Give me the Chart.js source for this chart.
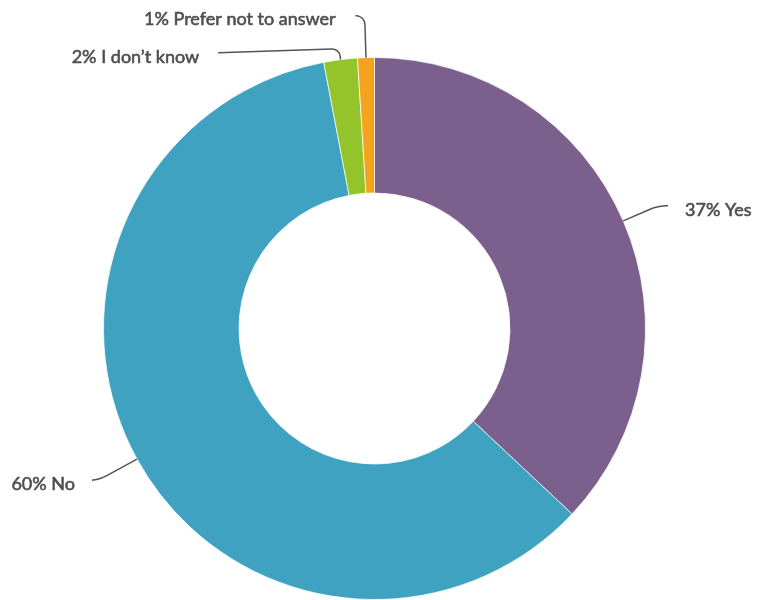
<!DOCTYPE html>
<html>
<head>
<meta charset="utf-8">
<title>Survey responses</title>
<script src="https://cdn.jsdelivr.net/npm/chart.js@4/dist/chart.umd.min.js"></script>
<style>
  html, body { margin: 0; padding: 0; background: #ffffff; }
  #wrap { width: 757px; height: 600px; position: relative; }
</style>
</head>
<body>
<div id="wrap"><canvas id="chart"></canvas></div>
<script>
// Answers, in clockwise order from 12 o'clock
const categories = ['Yes', 'No', 'I don\u2019t know', 'Prefer not to answer'];
const percentages = [37, 60, 2, 1];
const sliceColors = ['#7b5f8d', '#40a2c1', '#93c42a', '#f5a31c'];

// Leader-line geometry for each label: radial run out of the slice,
// horizontal run after the bend, corner rounding, and gap to the text.
const leaderLayout = [
  { radial: 38, run: 10, dy: 0, corner: 45, gap: 17 },
  { radial: 40, run: 10, dy: 2, corner: 36, gap: 17 },
  { radial: 11, run: 121, dy: 4, corner: 8, gap: 19 },
  { radial: 42, run: 7, dy: 0, corner: 9, gap: 22 }
];

const leaderLabels = {
  id: 'leaderLabels',
  afterDatasetsDraw(chart) {
    const ctx = chart.ctx;
    const meta = chart.getDatasetMeta(0);
    const values = chart.data.datasets[0].data;
    ctx.save();
    ctx.strokeStyle = '#555555';
    ctx.lineWidth = 1.5;
    ctx.font = '18px Lato';
    ctx.textBaseline = 'middle';
    meta.data.forEach((arc, i) => {
      const lay = leaderLayout[i];
      const mid = (arc.startAngle + arc.endAngle) / 2;
      const r = arc.outerRadius;
      const cx = arc.x, cy = arc.y;
      const ux = Math.cos(mid), uy = Math.sin(mid);
      const sx = cx + ux * r, sy = cy + uy * r;
      const ex = sx + ux * lay.radial, ey = sy + uy * lay.radial;
      const right = ux >= 0;
      const tx = ex + (right ? lay.run : -lay.run);
      const ty = ey + lay.dy;
      ctx.beginPath();
      ctx.strokeStyle = '#555555';
      ctx.lineWidth = 1.5;
      ctx.moveTo(sx, sy);
      ctx.arcTo(ex, ey, tx, ty, lay.corner);
      ctx.lineTo(tx, ty);
      ctx.stroke();
      const label = values[i] + '% ' + chart.data.labels[i];
      const lx = tx + (right ? lay.gap : -lay.gap);
      ctx.textAlign = right ? 'left' : 'right';
      ctx.fillStyle = '#4f4f4f';
      ctx.strokeStyle = '#4f4f4f';
      ctx.lineWidth = 0.6;
      ctx.lineJoin = 'round';
      ctx.fillText(label, lx, ty + 4);
      ctx.strokeText(label, lx, ty + 4);
    });
    ctx.restore();
  }
};

new Chart(document.getElementById('chart'), {
  type: 'doughnut',
  data: {
    labels: categories,
    datasets: [{
      data: percentages,
      backgroundColor: sliceColors,
      borderColor: 'rgba(255,255,255,0.7)',
      borderWidth: 1,
      hoverOffset: 0
    }]
  },
  options: {
    responsive: true,
    maintainAspectRatio: false,
    animation: false,
    cutout: '50%',
    rotation: 0,
    layout: { padding: { top: 57, left: 0, right: 8, bottom: 0 } },
    plugins: {
      legend: { display: false },
      tooltip: { enabled: false }
    }
  },
  plugins: [leaderLabels]
});
</script>
</body>
</html>
